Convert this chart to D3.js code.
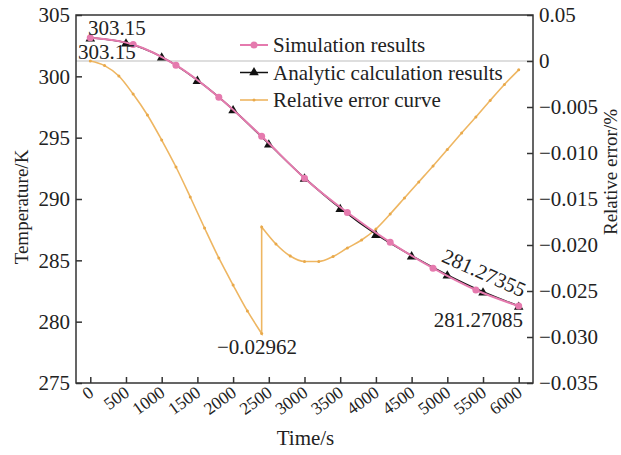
<!DOCTYPE html>
<html>
<head>
<meta charset="utf-8">
<script src="https://cdn.jsdelivr.net/npm/d3@7"></script>
<style>
  html, body { margin: 0; padding: 0; background: #fff; }
  svg { display: block; }
  text { font-family: "Liberation Serif", "Times New Roman", serif; fill: #222; }
</style>
</head>
<body>
<svg id="chart" width="621" height="455"></svg>
<script>
// Temperature from the simulation (markers every 600 s)
const simTime = [0, 600, 1200, 1800, 2400, 3000, 3600, 4200, 4800, 5400, 6000];
const simTemp = [303.15, 302.60, 300.91, 298.30, 295.11, 291.70, 288.90, 286.47, 284.36, 282.58, 281.27085];

// Temperature from the analytic calculation (every 500 s)
const anaTime = [0, 500, 1000, 1500, 2000, 2500, 3000, 3500, 4000, 4500, 5000, 5500, 6000];
const anaTemp = [303.15, 302.74, 301.59, 299.69, 297.29, 294.50, 291.72, 289.25, 287.13, 285.38, 283.82, 282.44, 281.27355];

// Relative error (%) between the two, sampled every 200 s; the step at 2400 s is the jump
const errTime = [0, 200, 400, 600, 800, 1000, 1200, 1400, 1600, 1800, 2000, 2200, 2400,
                 2400, 2600, 2800, 3000, 3200, 3400, 3600, 3800, 4000, 4200, 4400, 4600,
                 4800, 5000, 5200, 5400, 5600, 5800, 6000];
const errValue = [0, -0.0005, -0.00163, -0.00359, -0.00587, -0.00859, -0.01152, -0.01478,
                  -0.01815, -0.02141, -0.02435, -0.02717, -0.02962,
                  -0.01804, -0.01989, -0.0212, -0.02179, -0.02179, -0.02125, -0.02033,
                  -0.01946, -0.01826, -0.01663, -0.01489, -0.01315, -0.01141, -0.00962,
                  -0.00783, -0.00609, -0.00429, -0.00255, -0.00096];

// Axis ticks
const timeTicks = [0, 500, 1000, 1500, 2000, 2500, 3000, 3500, 4000, 4500, 5000, 5500, 6000];
const tempTicks = [275, 280, 285, 290, 295, 300, 305];
const errTicks = [-0.035, -0.03, -0.025, -0.02, -0.015, -0.01, -0.005, 0, 0.005];
const errTickLabels = ["\u22120.035", "\u22120.030", "\u22120.025", "\u22120.020", "\u22120.015",
                       "\u22120.010", "\u22120.005", "0", "0.05"];

const seriesNames = ["Simulation results", "Analytic calculation results", "Relative error curve"];
const colors = { sim: "#e57aae", ana: "#111111", err: "#eeb662" };

const svg = d3.select("#chart");
const L = 76, R = 533, T = 15, B = 383;
const FS = 21;

const x = d3.scaleLinear().domain([-200, 6200]).range([L, R]);
const yT = d3.scaleLinear().domain([275, 305]).range([B, T]);
const yE = d3.scaleLinear().domain([-0.035, 0.005]).range([B, T]);

// zero-error reference line
svg.append("line")
  .attr("x1", L).attr("x2", R).attr("y1", yE(0)).attr("y2", yE(0))
  .attr("stroke", "#bdbdbd").attr("stroke-width", 1);

// Axes with inward ticks
const axisColor = "#333";
const gx = svg.append("g").attr("transform", `translate(0,${B})`)
  .call(d3.axisBottom(x).tickValues(timeTicks).tickSizeInner(-6).tickSizeOuter(0).tickFormat(d3.format("d")));
const gyL = svg.append("g").attr("transform", `translate(${L},0)`)
  .call(d3.axisLeft(yT).tickValues(tempTicks).tickSizeInner(-6).tickSizeOuter(0).tickFormat(d3.format("d")));
const gyR = svg.append("g").attr("transform", `translate(${R},0)`)
  .call(d3.axisRight(yE).tickValues(errTicks).tickSizeInner(-6).tickSizeOuter(0)
        .tickFormat((d, i) => errTickLabels[i]));

[gx, gyL, gyR].forEach(g => {
  g.select(".domain").remove();
  g.selectAll(".tick line").attr("stroke", axisColor).attr("stroke-width", 1.5);
  g.selectAll(".tick text").attr("font-size", FS).attr("fill", "#222")
    .style("font-family", '"Liberation Serif", "Times New Roman", serif');
});
gyL.selectAll(".tick text").attr("x", -6);
gyR.selectAll(".tick text").attr("x", 6);
gx.selectAll(".tick text")
  .attr("font-size", 17.5)
  .attr("text-anchor", "end")
  .attr("transform", "translate(4,12) rotate(-36)")
  .attr("x", 0).attr("y", 0).attr("dy", 0);

// frame
svg.append("rect").attr("x", L).attr("y", T).attr("width", R - L).attr("height", B - T)
  .attr("fill", "none").attr("stroke", axisColor).attr("stroke-width", 1.5);

// axis titles
svg.append("text").attr("x", (L + R) / 2 + 1).attr("y", 438).attr("text-anchor", "middle")
  .attr("dominant-baseline", "central").attr("font-size", FS).text("Time/s");
svg.append("text").attr("transform", "translate(21,207) rotate(-90)").attr("text-anchor", "middle")
  .attr("dominant-baseline", "central").attr("font-size", 19).text("Temperature/K");
svg.append("text").attr("transform", "translate(610,172) rotate(-90)").attr("text-anchor", "middle")
  .attr("dominant-baseline", "central").attr("font-size", 19).text("Relative error/%");

// Relative error curve: smooth pieces joined by the vertical step
const errPts = errTime.map((t, i) => [t, errValue[i]]);
const jump = errTime.indexOf(2400) + 1;
const eLine = d3.line().x(d => x(d[0])).y(d => yE(d[1])).curve(d3.curveMonotoneX);
const errPath = eLine(errPts.slice(0, jump)) + eLine(errPts.slice(jump)).replace(/^M/, "L");
svg.append("path").attr("d", errPath).attr("fill", "none")
  .attr("stroke", colors.err).attr("stroke-width", 1.6);
svg.append("g").selectAll("circle").data(errPts).join("circle")
  .attr("cx", d => x(d[0])).attr("cy", d => yE(d[1])).attr("r", 1.5).attr("fill", "#e9a94a");

// Analytic line with triangles
const tLine = d3.line().x(d => x(d[0])).y(d => yT(d[1])).curve(d3.curveMonotoneX);
const anaPts = anaTime.map((t, i) => [t, anaTemp[i]]);
const simPts = simTime.map((t, i) => [t, simTemp[i]]);
svg.append("path").attr("d", tLine(anaPts)).attr("fill", "none")
  .attr("stroke", colors.ana).attr("stroke-width", 1.5);
const tri = d3.symbol().type(d3.symbolTriangle).size(40);
svg.append("g").selectAll("path").data(anaPts).join("path")
  .attr("d", tri).attr("transform", d => `translate(${x(d[0])},${yT(d[1]) + 1})`)
  .attr("fill", colors.ana);

// Simulation line with dots
svg.append("path").attr("d", tLine(simPts)).attr("fill", "none")
  .attr("stroke", colors.sim).attr("stroke-width", 2);
svg.append("g").selectAll("circle").data(simPts).join("circle")
  .attr("cx", d => x(d[0])).attr("cy", d => yT(d[1])).attr("r", 3.5).attr("fill", colors.sim);

// value annotations
const ann = svg.append("g").attr("font-size", FS);
ann.append("text").attr("x", 88).attr("y", 28).attr("dominant-baseline", "central")
  .text(d3.format(".2f")(simTemp[0]));
ann.append("text").attr("x", 78).attr("y", 52).attr("dominant-baseline", "central")
  .text(d3.format(".2f")(anaTemp[0]));
const minErr = d3.min(errValue);
ann.append("text").attr("x", 257).attr("y", 347).attr("text-anchor", "middle")
  .attr("dominant-baseline", "central").text(d3.format(".5f")(minErr).replace("-", "\u2212"));
ann.append("text").attr("x", 523).attr("y", 320).attr("text-anchor", "end")
  .attr("dominant-baseline", "central").text(d3.format(".5f")(simTemp[simTemp.length - 1]));
ann.append("text").attr("transform", "translate(484,273) rotate(24)").attr("text-anchor", "middle")
  .attr("dominant-baseline", "central").text(d3.format(".5f")(anaTemp[anaTemp.length - 1]));

// legend
const leg = svg.append("g");
const legY = [45, 72.5, 100];
const lx0 = 240, lx1 = 268;
[colors.sim, colors.ana, colors.err].forEach((c, i) => {
  leg.append("line").attr("x1", lx0).attr("x2", lx1).attr("y1", legY[i]).attr("y2", legY[i])
    .attr("stroke", c).attr("stroke-width", i === 1 ? 1.5 : (i === 0 ? 2 : 1.6));
  leg.append("text").attr("x", 273).attr("y", legY[i]).attr("dominant-baseline", "central")
    .attr("font-size", FS).text(seriesNames[i]);
});
leg.append("circle").attr("cx", (lx0 + lx1) / 2).attr("cy", legY[0]).attr("r", 3.5).attr("fill", colors.sim);
leg.append("path").attr("d", tri).attr("transform", `translate(${(lx0 + lx1) / 2},${legY[1]})`).attr("fill", colors.ana);
leg.append("circle").attr("cx", (lx0 + lx1) / 2).attr("cy", legY[2]).attr("r", 1.5).attr("fill", "#e9a94a");
</script>
</body>
</html>
